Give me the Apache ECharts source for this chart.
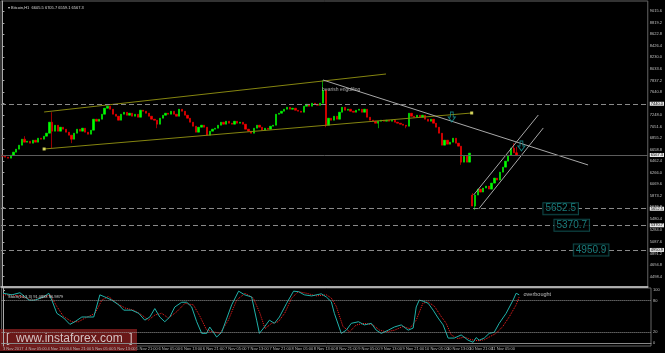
<!DOCTYPE html>
<html>
<head>
<meta charset="utf-8">
<title>Bitcoin H1</title>
<script src="https://cdn.jsdelivr.net/npm/echarts@6.0.0/dist/echarts.min.js"></script>
<style>
html,body{margin:0;padding:0;background:#000;}
#chart{width:665px;height:353px;}
</style>
</head>
<body>
<div id="chart"></div>
<script>
// ---- data ----
var slotCount = 234;            // hourly slots on the time axis (incl. empty right part)
var startTime = Date.UTC(2017, 10, 3, 21);
var firstOpen = 6565;

// hourly closes
var closes = [
 6548,6531,6514,6565,6616,6667,6735,6837,6786,6803,
 6769,6820,6786,6854,6837,6888,6939,7126,6973,7075,
 6973,7041,7007,6956,6905,6837,6939,7007,6973,7024,
 6956,6922,6990,7177,7143,7177,7262,7364,7398,7347,
 7262,7228,7160,7262,7296,7245,7279,7228,7262,7211,
 7330,7313,7279,7228,7177,7160,7092,7194,7245,7279,
 7262,7313,7262,7228,7347,7313,7245,7194,7126,7058,
 6956,7041,7075,7041,6905,6973,7007,7024,7075,7126,
 7092,7143,7109,7092,7143,7109,7126,7092,7007,6973,
 6939,7024,7075,7041,6990,7024,7007,7058,7075,7262,
 7279,7313,7347,7381,7347,7364,7330,7313,7296,7398,
 7432,7398,7449,7432,7415,7449,7670,7075,7194,7160,
 7228,7177,7296,7381,7330,7347,7313,7296,7330,7347,
 7296,7347,7211,7160,7143,7109,7143,7160,7143,7160,
 7143,7160,7126,7109,7092,7075,7058,7279,7228,7211,
 7245,7211,7245,7177,7143,7177,7109,7041,6939,6735,
 6820,6752,6786,6854,6769,6718,6446,6548,6446,6599,
 5698,5885,5987,5936,6004,6038,5987,6089,6174,6140,
 6276,6361,6463,6565,6684,6605.5,6567.3
];
// opens that do not follow the previous close (weekend gap)
var gapOpens = {170: 5885};
// visible wicks: [low, high]
var wicks = {
  8: [null, 6888], 18: [6684, 7296], 25: [6769, null], 56: [7024, null],
  116: [null, 7845], 117: [7041, null], 136: [7024, null], 146: [7024, null],
  166: [6400, null], 170: [null, 5919], 171: [5630, null], 185: [null, 6769],
  186: [6559.1, 6705.7]
};

var priceTicks = [4498.4,4694.8,4891.2,5087.6,5284.0,5480.4,5676.8,5873.2,6069.6,6266.0,
  6462.4,6658.8,6855.2,7051.6,7248.0,7444.4,7640.8,7837.2,8033.6,8230.0,8426.4,8622.8,8819.2,9015.6];
var resistance = 7440.0;
var bidPrice = 6567.3;
var targets = [5652.5, 5370.7, 4950.9];
var targetSlots = [202, 206, 213];

// trend lines: [slot, price]
var upperChannel = [[15.1, 7300], [138.8, 7947]];
var lowerChannel = [[15.1, 6670], [169.8, 7283]];
var bearishLine = [[116, 7845], [211.9, 6398]];
var risingUpper = [[170.5, 5887], [193.9, 7249]];
var risingLower = [[172.3, 5648], [195.7, 7028]];
var arrowMarks = [[162.6, 7215], [187.8, 6721]];
var patternNote = [115.5, 7683];

// stochastic (14,3,3): [slot, value]
var stochMain = [
 [0,94],[3.2,91],[6.1,95],[9.4,81],[11.5,81],[14.7,87],[16.5,94],[17.6,81],[19.4,56],[21.9,47],
 [24.1,35],[25.9,40],[28.4,49],[30.2,49],[32.7,49],[34.9,91],[36.7,87],[39.2,81],[41.7,72],[43.5,62],
 [46.4,62],[48.9,56],[51.1,43],[52.9,49],[54.7,65],[56.5,49],[58.3,40],[60.1,49],[61.9,68],[64.4,77],
 [66.2,77],[68,68],[69.8,40],[71.6,18],[73.4,18],[74.5,30],[77,11],[78.8,20],[82.4,72],[84.9,98],
 [87.1,91],[89.6,87],[91.4,43],[92.4,18],[94.2,30],[96,43],[97.8,37],[99.6,49],[102.2,75],[104.7,98],
 [106.5,97],[108.6,91],[111.2,89],[114.7,93],[116.5,87],[118.3,78],[119.4,56],[121.9,18],[123.7,24],[125.5,37],
 [128.1,40],[130.2,34],[132.7,37],[134.5,24],[136.3,18],[138.8,24],[141,30],[143.5,34],[146,24],[147.8,28],
 [148.9,68],[150,81],[151.4,79],[153.2,75],[155,62],[156.8,47],[158.6,34],[160.4,9],[162.6,9],[165.1,15],
 [167.6,5],[169.4,1],[170.5,10],[171.6,5],[173.4,9],[175.2,18],[177,20],[178.8,37],[181.3,56],[183.8,81],
 [184.9,94],[186,91.1]
];
var stochSignal = [
 [0,91],[3.2,91],[6.8,88],[10.4,81],[14,85],[17,91],[19.4,69],[21.8,50],[24.8,40],[27.2,40],
 [29.6,47],[33.2,56],[35.6,81],[38,88],[41,75],[44,66],[47,62],[50,53],[52.4,43],[54.8,53],
 [57.2,56],[59.6,47],[62.6,59],[65.6,75],[68.6,72],[71,50],[73.4,24],[75.8,21],[78.2,18],[81.2,43],
 [84.2,81],[87.2,94],[90.2,85],[92.6,56],[94.4,27],[96.8,37],[99.2,40],[101.5,56],[104,85],[106.4,97],
 [109.4,94],[112.9,89],[116.5,91],[118.3,85],[120.1,69],[122.5,31],[124.9,21],[127.3,34],[130.3,37],[133.3,34],
 [135.7,24],[138.1,21],[141.1,24],[144.1,31],[146.5,27],[148.9,43],[151.3,75],[153.1,78],[155.5,69],[157.9,50],
 [159.7,37],[161.5,15],[163.9,8],[166.3,11],[168.7,6],[171.1,4],[173.5,6],[175.9,13],[177.7,18],[180.1,31],
 [182.5,50],[184.9,72],[186,87]
];
var stochLevels = [80, 20];
var stochTicks = [0, 20, 80, 100];
var obNote = [187.4, 91];

// ---- build ----
var months = ['Jan','Feb','Mar','Apr','May','Jun','Jul','Aug','Sep','Oct','Nov','Dec'];
var times = [];
for (var s = 0; s < slotCount; s++) {
  var d = new Date(startTime + s * 3600000);
  var hh = ('0' + d.getUTCHours()).slice(-2);
  times.push(s === 0 ? d.getUTCDate() + ' ' + months[d.getUTCMonth()] + ' ' + d.getUTCFullYear()
                     : d.getUTCDate() + ' ' + months[d.getUTCMonth()] + ' ' + hh + ':00');
}
var lastSlot = closes.length - 1;
var candles = closes.map(function (c, i) {
  var o = gapOpens[i] !== undefined ? gapOpens[i] : (i === 0 ? firstOpen : closes[i - 1]);
  var w = wicks[i] || [];
  var lo = w[0] != null ? w[0] : Math.min(o, c);
  var hi = w[1] != null ? w[1] : Math.max(o, c);
  return [o, c, lo, hi];
});
var showTime = function (idx) { return idx % 8 === 0 && idx <= lastSlot; };

var FONT = '"Liberation Sans", Arial, sans-serif';
var priceTag = {show: true, position: 'end', distance: 2, fontSize: 4, fontFamily: FONT,
  color: '#000', backgroundColor: '#e6e6e6', padding: [0, 1],
  formatter: function (p) { return p.value.toFixed(1); }};
var trend = function (data, color) {
  return {type: 'line', xAxisIndex: 1, yAxisIndex: 0, data: data, symbol: 'none', silent: true,
    lineStyle: {color: color, width: 1}, z: 3};
};

var myChart = echarts.init(document.getElementById('chart'), null, {renderer: 'canvas'});
var option = {
  backgroundColor: '#000',
  animation: false,
  title: [
    {text: '\u25BE Bitcoin,H1  6605.5 6705.7 6559.1 6567.3', left: 3, top: 1,
     textStyle: {color: '#d8d8d8', fontSize: 4, fontWeight: 'normal', fontFamily: FONT}},
    {text: 'Stoch(14,3,3) 91.0883 86.9879', left: 3, top: 290,
     textStyle: {color: '#d8d8d8', fontSize: 4, fontWeight: 'normal', fontFamily: FONT}}
  ],
  grid: [
    {left: 1, top: 1, width: 650, height: 286, show: true, borderColor: '#666', borderWidth: 1},
    {left: 1, top: 288, width: 650, height: 58, show: true, borderColor: '#666', borderWidth: 1}
  ],
  xAxis: [
    {type: 'category', gridIndex: 0, data: times, show: true,
     axisLine: {lineStyle: {color: '#cfcfcf', width: 1.5}}, axisTick: {show: false}, axisLabel: {show: false}},
    {type: 'value', gridIndex: 0, min: -0.5, max: slotCount - 0.5, show: false},
    {type: 'category', gridIndex: 1, data: times,
     axisLine: {lineStyle: {color: '#888'}},
     axisTick: {alignWithLabel: true, interval: showTime, length: 2, lineStyle: {color: '#aaa'}},
     axisLabel: {interval: showTime, fontSize: 4, color: '#bbb', align: 'left', margin: 1, fontFamily: FONT}},
    {type: 'value', gridIndex: 1, min: -0.5, max: slotCount - 0.5, show: false}
  ],
  yAxis: [
    {type: 'value', gridIndex: 0, position: 'right', min: 4320, max: 9190, scale: true,
     axisLine: {show: true, lineStyle: {color: '#aaa'}},
     axisTick: {show: true, customValues: priceTicks, length: 2, lineStyle: {color: '#aaa'}},
     axisLabel: {customValues: priceTicks, fontSize: 4, color: '#c0c0c0', margin: 2, fontFamily: FONT,
       formatter: function (v) { return v.toFixed(1); }},
     splitLine: {show: false}},
    {type: 'value', gridIndex: 1, position: 'right', min: -6, max: 104,
     axisLine: {show: true, lineStyle: {color: '#aaa'}},
     axisTick: {show: true, customValues: stochTicks, length: 2, lineStyle: {color: '#aaa'}},
     axisLabel: {customValues: stochTicks, fontSize: 4, color: '#c0c0c0', margin: 2, fontFamily: FONT},
     splitLine: {show: false}}
  ],
  series: [
    {type: 'candlestick', xAxisIndex: 0, yAxisIndex: 0, data: candles, barWidth: 1.8,
     itemStyle: {color: '#00ff00', color0: '#ff0000', borderColor: '#00ff00', borderColor0: '#ff0000', borderWidth: 0.6},
     markLine: {symbol: 'none', silent: true, animation: false,
       data: [
         {yAxis: resistance, lineStyle: {color: '#8a8a8a', type: [5, 3], width: 1}},
         {yAxis: bidPrice, lineStyle: {color: '#5c5c5c', type: 'solid', width: 1}},
         {yAxis: targets[0], lineStyle: {color: '#8a8a8a', type: [5, 3], width: 1}},
         {yAxis: targets[1], lineStyle: {color: '#8a8a8a', type: [5, 3], width: 1}},
         {yAxis: targets[2], lineStyle: {color: '#8a8a8a', type: [5, 3], width: 1}}
       ],
       label: priceTag}, z: 2},
    trend(upperChannel, '#858510'),
    trend(lowerChannel, '#858510'),
    trend(bearishLine, '#a8a8a8'),
    trend(risingUpper, '#a8a8a8'),
    trend(risingLower, '#a8a8a8'),
    {type: 'scatter', xAxisIndex: 1, yAxisIndex: 0, silent: true, z: 4,
     data: [lowerChannel[0], lowerChannel[1]], symbol: 'rect', symbolSize: 3,
     itemStyle: {color: '#ffff70'}},
    {type: 'scatter', xAxisIndex: 1, yAxisIndex: 0, silent: true, z: 4,
     data: arrowMarks, symbol: 'path://M3,0 L7,0 L7,6 L10,6 L5,12 L0,6 L3,6 Z', symbolSize: [7, 10],
     itemStyle: {color: 'rgba(0,0,0,0)', borderColor: '#1c9c9c', borderWidth: 1}},
    {type: 'scatter', xAxisIndex: 1, yAxisIndex: 0, silent: true, z: 5,
     data: targets.map(function (t, k) { return [targetSlots[k], t]; }), symbolSize: 1,
     itemStyle: {color: 'rgba(0,0,0,0)'},
     label: {show: true, position: 'inside', fontSize: 10, fontFamily: FONT, color: '#1f9a9a',
       backgroundColor: '#000', borderColor: '#125a5a', borderWidth: 1, padding: [1, 2, 0, 2],
       formatter: function (p) { return p.value[1].toFixed(1); }}},
    {type: 'scatter', xAxisIndex: 1, yAxisIndex: 0, silent: true, z: 5,
     data: [patternNote], symbolSize: 1, itemStyle: {color: 'rgba(0,0,0,0)'},
     label: {show: true, position: 'right', distance: 0, fontSize: 5, fontFamily: FONT, color: '#cfcfcf',
       formatter: 'bearish engulfing'}},
    {type: 'line', xAxisIndex: 3, yAxisIndex: 1, data: stochMain, symbol: 'none', silent: true,
     lineStyle: {color: '#20b2aa', width: 1}, z: 3,
     markLine: {symbol: 'none', silent: true, label: {show: false},
       lineStyle: {color: '#9a9a9a', type: 'dotted', width: 1},
       data: stochLevels.map(function (v) { return {yAxis: v}; })}},
    {type: 'line', xAxisIndex: 3, yAxisIndex: 1, data: stochSignal, symbol: 'none', silent: true,
     lineStyle: {color: '#ff2020', width: 1, type: 'dotted'}, z: 2},
    {type: 'scatter', xAxisIndex: 3, yAxisIndex: 1, silent: true, z: 5,
     data: [obNote], symbolSize: 1, itemStyle: {color: 'rgba(0,0,0,0)'},
     label: {show: true, position: 'right', distance: 0, fontSize: 5.5, fontFamily: FONT, color: '#e0e0e0',
       formatter: 'overbought'}}
  ],
  graphic: [
    {type: 'group', left: 0, top: 329, z: 100, children: [
      {type: 'rect', shape: {x: 0, y: 0, width: 137, height: 22}, style: {fill: 'rgba(125,28,28,0.85)'}},
      {type: 'text', x: 6, y: 4, style: {text: '[  www.instaforex.com  ]', fill: '#d4c2c2',
        font: '12px "Liberation Sans", Arial, sans-serif'}}
    ]}
  ]
};
myChart.setOption(option);
</script>
</body>
</html>
